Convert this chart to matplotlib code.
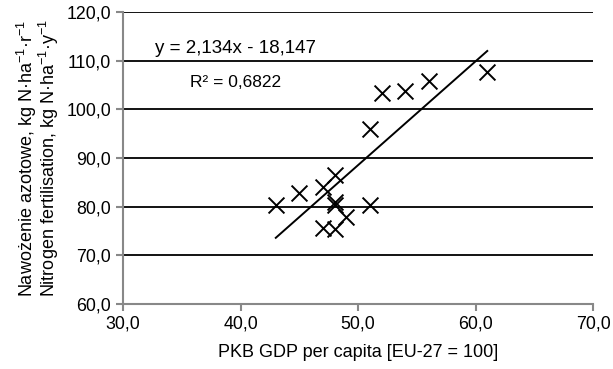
import matplotlib.pyplot as plt
import numpy as np

plt.rcParams['font.family'] = ['Liberation Sans', 'DejaVu Sans']
plt.rcParams['mathtext.fontset'] = 'custom'
plt.rcParams['mathtext.rm'] = 'Liberation Sans'

# GDP per capita [EU-27 = 100] vs nitrogen fertilisation
gdp = [43, 45, 47, 47, 48, 48, 48, 48, 49, 51, 51, 52, 54, 56, 61]
nitrogen = [80.3, 82.8, 84.0, 75.6, 75.4, 86.5, 81.0, 80.4, 77.9, 80.3, 96.0, 103.3, 103.8, 105.8, 107.7]

slope = 2.134
intercept = -18.147
trend_x = [43, 61]

fig = plt.figure(figsize=(6.13, 3.69), dpi=100)
ax = fig.add_axes([0.2007, 0.176, 0.7667, 0.791])

ax.scatter(gdp, nitrogen, marker='x', s=130, color='black', linewidths=1.4, zorder=3)

tx = np.array(trend_x)
ax.plot(tx, slope * tx + intercept, color='black', linewidth=1.4, zorder=3)

ax.text(39.6, 112.6, 'y = 2,134x - 18,147', ha='center', va='center', fontsize=13.5)
ax.text(39.6, 105.6, 'R² = 0,6822', ha='center', va='center', fontsize=12.5)

ax.set_xlim(30, 70)
ax.set_ylim(60, 120)
ax.set_xticks(np.arange(30, 71, 10))
ax.set_yticks(np.arange(60, 121, 10))
ax.set_xticklabels([f'{v:.1f}'.replace('.', ',') for v in np.arange(30, 71, 10)])
ax.set_yticklabels([f'{v:.1f}'.replace('.', ',') for v in np.arange(60, 121, 10)])

ax.yaxis.grid(True, color='black', linewidth=1.3)
ax.set_axisbelow(True)
for s in ['top', 'right']:
    ax.spines[s].set_visible(False)
for s in ['left', 'bottom']:
    ax.spines[s].set_color('#888888')
    ax.spines[s].set_linewidth(1.5)
ax.tick_params(axis='both', colors='#888888', labelcolor='black', labelsize=12.8,
               length=5, width=1.5, direction='out')

ax.set_xlabel('PKB GDP per capita [EU-27 = 100]', fontsize=13, labelpad=8)
ax.set_ylabel('Nawożenie azotowe, kg N·ha$^{-1}$·r$^{-1}$\n'
              'Nitrogen fertilisation, kg N·ha$^{-1}$·y$^{-1}$',
              fontsize=13, labelpad=4, linespacing=0.9)

fig.savefig('out.png', dpi=100)
